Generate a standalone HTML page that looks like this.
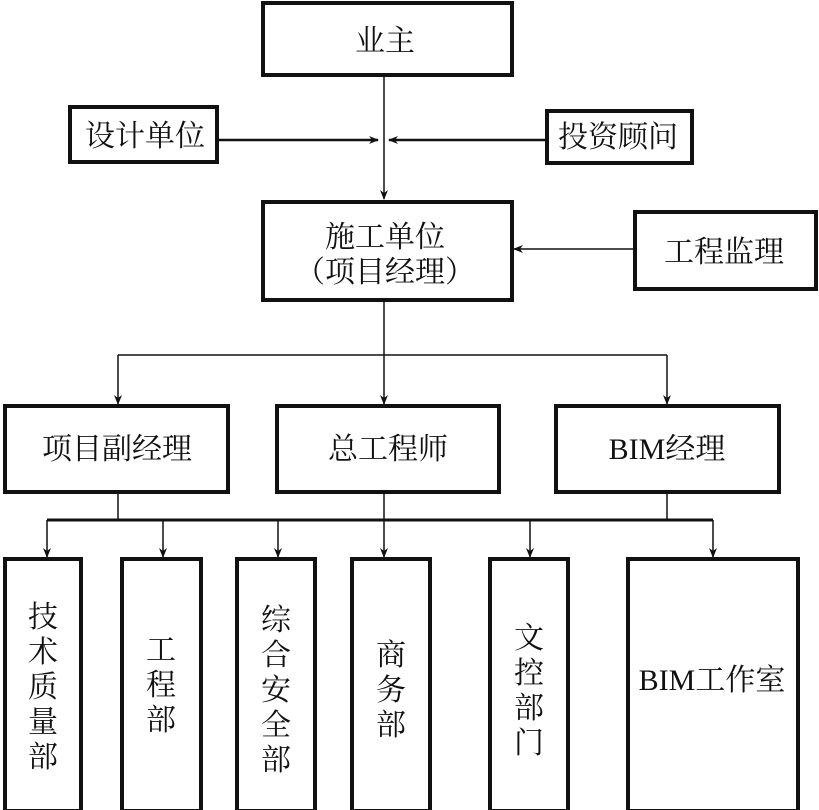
<!DOCTYPE html>
<html><head><meta charset="utf-8"><style>
html,body{margin:0;padding:0;background:#fff;}
svg{display:block;}
text{font-family:"Liberation Serif","Noto Serif CJK SC",serif;font-size:30px;fill:#111;text-anchor:middle;}
</style></head><body>
<svg width="819" height="810" viewBox="0 0 819 810" xmlns="http://www.w3.org/2000/svg">
<defs>
<marker id="a" markerWidth="10" markerHeight="10" refX="9" refY="5" orient="auto" markerUnits="userSpaceOnUse">
<path d="M0,1 L10,5 L0,9 L3,5 Z" fill="#111"/>
</marker>
</defs>
<g fill="none" stroke="#111" stroke-width="4">
<rect x="263" y="3" width="249" height="72"/>
<rect x="70" y="107" width="147" height="55"/>
<rect x="547" y="111" width="145" height="52"/>
<rect x="263" y="202" width="249" height="98"/>
<rect x="635" y="212" width="181" height="77"/>
<rect x="5" y="406" width="223" height="86"/>
<rect x="277" y="406" width="222" height="86"/>
<rect x="556" y="406" width="223" height="86"/>
<rect x="5" y="559" width="76" height="252"/>
<rect x="122" y="559" width="79" height="252"/>
<rect x="237" y="559" width="78" height="252"/>
<rect x="352" y="559" width="78" height="252"/>
<rect x="490" y="559" width="78" height="252"/>
<rect x="628" y="559" width="170" height="252"/>
</g>
<g fill="none" stroke="#111" stroke-width="1.5">
<line x1="384" y1="75" x2="384" y2="199" marker-end="url(#a)"/>
<line x1="217" y1="140" x2="378" y2="140" stroke-width="2.5" marker-end="url(#a)"/>
<line x1="547" y1="140" x2="389" y2="140" stroke-width="2.5" marker-end="url(#a)"/>
<line x1="635" y1="249" x2="514" y2="249" marker-end="url(#a)"/>
<line x1="384" y1="300" x2="384" y2="404" marker-end="url(#a)"/>
<line x1="118" y1="355" x2="667" y2="355"/>
<line x1="118" y1="355" x2="118" y2="404" marker-end="url(#a)"/>
<line x1="667" y1="355" x2="667" y2="404" marker-end="url(#a)"/>
<line x1="118" y1="492" x2="118" y2="520"/>
<line x1="384" y1="492" x2="384" y2="557" marker-end="url(#a)"/>
<line x1="667" y1="492" x2="667" y2="520"/>
<line x1="47" y1="520" x2="713" y2="520" stroke-width="3"/>
<line x1="47" y1="520" x2="47" y2="557" marker-end="url(#a)"/>
<line x1="163" y1="520" x2="163" y2="557" marker-end="url(#a)"/>
<line x1="278" y1="520" x2="278" y2="557" marker-end="url(#a)"/>
<line x1="530" y1="520" x2="530" y2="557" marker-end="url(#a)"/>
<line x1="713" y1="520" x2="713" y2="557" marker-end="url(#a)"/>
</g>
<text x="385" y="51">业主</text>
<text x="145" y="146">设计单位</text>
<text x="618" y="147">投资顾问</text>
<text x="385" y="247">施工单位</text>
<text x="385" y="282">（项目经理）</text>
<text x="724" y="262">工程监理</text>
<text x="117" y="459">项目副经理</text>
<text x="388" y="459">总工程师</text>
<text x="667" y="459">BIM经理</text>
<g>
<text x="43" y="627">技</text><text x="43" y="662">术</text><text x="43" y="697">质</text><text x="43" y="732">量</text><text x="43" y="767">部</text>
<text x="161" y="660">工</text><text x="161" y="695">程</text><text x="161" y="730">部</text>
<text x="276" y="630">综</text><text x="276" y="665">合</text><text x="276" y="700">安</text><text x="276" y="735">全</text><text x="276" y="770">部</text>
<text x="391" y="665">商</text><text x="391" y="700">务</text><text x="391" y="735">部</text>
<text x="529" y="648">文</text><text x="529" y="683">控</text><text x="529" y="718">部</text><text x="529" y="753">门</text>
<text x="712" y="690">BIM工作室</text>
</g>
</svg>
</body></html>
